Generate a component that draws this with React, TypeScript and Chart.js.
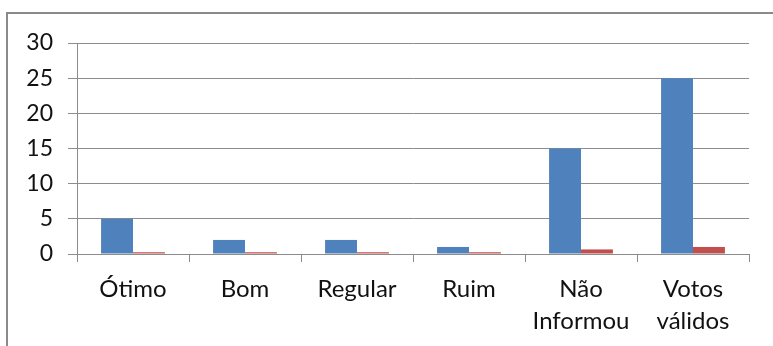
import React, { useEffect, useRef } from "react";
import { Chart, registerables } from "chart.js";

Chart.register(...registerables);

// Categories and the two series plotted per category
const categories: (string | string[])[] = [
  "Ótimo",
  "Bom",
  "Regular",
  "Ruim",
  ["Não", "Informou"],
  ["Votos", "válidos"],
];
const serie1: number[] = [5, 2, 2, 1, 15, 25];
const serie2: number[] = [0.25, 0.25, 0.25, 0.25, 0.65, 1.0];
const yTicks: number[] = [0, 5, 10, 15, 20, 25, 30];

const FONT = "Lato, 'Open Sans', sans-serif";
const GRID = "#8c8c8c";

export default function App() {
  const canvasRef = useRef<HTMLCanvasElement | null>(null);

  useEffect(() => {
    if (!canvasRef.current) return;
    const chart = new Chart(canvasRef.current, {
      type: "bar",
      data: {
        labels: categories,
        datasets: [
          { label: "Série 1", data: serie1, backgroundColor: "#4f81bd", borderWidth: 0 },
          { label: "Série 2", data: serie2, backgroundColor: "#c0504d", borderWidth: 0 },
        ],
      },
      options: {
        animation: false,
        responsive: false,
        maintainAspectRatio: false,
        devicePixelRatio: 1,
        layout: { padding: { left: 0, right: 24, top: 43, bottom: 0 } },
        plugins: { legend: { display: false }, tooltip: { enabled: false } },
        datasets: { bar: { categoryPercentage: 0.57, barPercentage: 1 } },
        scales: {
          x: {
            offset: true,
            grid: {
              offset: true,
              drawOnChartArea: false,
              drawTicks: true,
              tickLength: 8,
              color: GRID,
              lineWidth: 1,
            },
            border: { display: true, color: GRID, width: 1 },
            ticks: {
              color: "#111",
              font: { family: FONT, size: 24, lineHeight: 1.35 },
              padding: 11,
              maxRotation: 0,
              autoSkip: false,
            },
            afterFit: (scale: any) => {
              scale.height = 92;
            },
          },
          y: {
            min: 0,
            max: 30,
            afterBuildTicks: (scale: any) => {
              scale.ticks = yTicks.map((v) => ({ value: v }));
            },
            grid: { color: GRID, lineWidth: 1, tickLength: 9, drawTicks: true },
            border: { display: true, color: GRID, width: 1 },
            ticks: {
              color: "#111",
              font: { family: FONT, size: 23 },
              padding: 15,
            },
            afterFit: (scale: any) => {
              scale.width = 77;
            },
          },
        },
      },
    });
    return () => chart.destroy();
  }, []);

  return (
    <div>
      <div
        style={{
          position: "fixed",
          left: 6,
          top: 12,
          width: 820,
          height: 400,
          border: "2px solid #8a8a8a",
          boxSizing: "border-box",
        }}
      />
      <canvas
        ref={canvasRef}
        width={773}
        height={346}
        style={{ position: "fixed", left: 0, top: 0, width: 773, height: 346 }}
      />
    </div>
  );
}
